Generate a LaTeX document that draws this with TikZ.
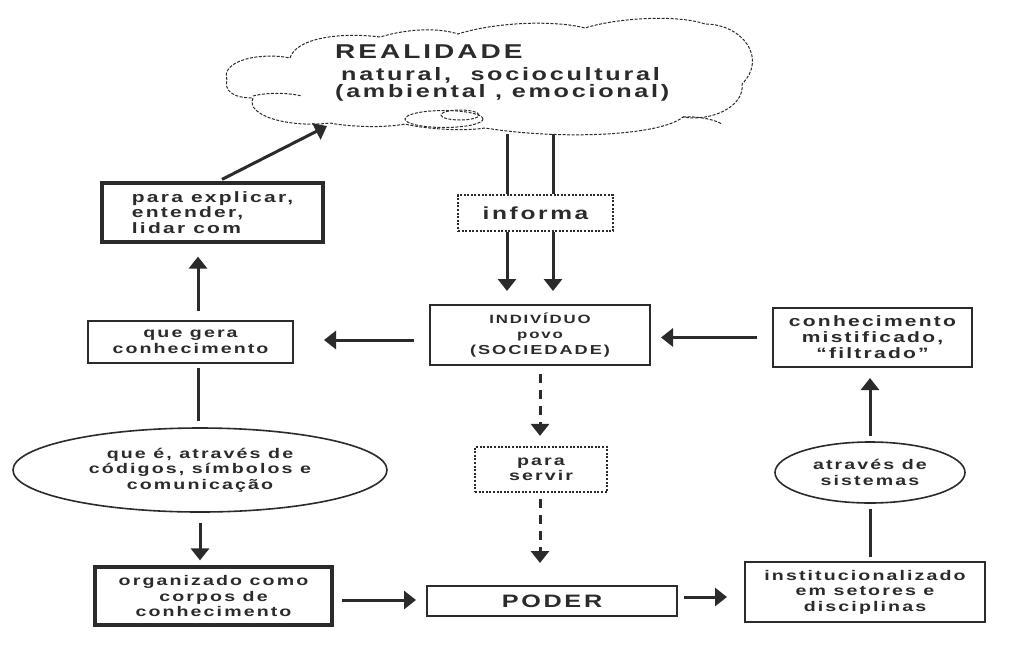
\documentclass[tikz,border=0pt]{standalone}
\usepackage{fontspec}
\setmainfont{Liberation Sans}
\newfontfamily\df[FakeStretch=1.4,LetterSpace=15]{Liberation Sans}
\usetikzlibrary{arrows.meta,shapes.geometric,calc}
\definecolor{ink}{HTML}{2B2B2B}
\tikzset{
  txt/.style={font=\df\bfseries\fontsize{14}{15.5}\selectfont, text=ink, align=center, inner sep=0pt},
  box/.style={txt, draw=ink, line width=2pt},
  thickbox/.style={box, line width=3.2pt},
  dotbox/.style={txt, draw=ink, line width=2.2pt, dash pattern=on 2pt off 1.6pt},
  oval/.style={txt, ellipse, draw=ink, line width=1.6pt},
  arr/.style={draw=ink, line width=3pt, -{Triangle[length=12pt,width=18pt]}},
  ln/.style={draw=ink, line width=3pt},
  darr/.style={arr, dash pattern=on 9pt off 7pt},
  cloudline/.style={draw=ink, line width=1pt, dash pattern=on 3pt off 1.5pt},
}
\begin{document}
\begin{tikzpicture}[x=1pt,y=-1pt]
\fill[white] (0,0) rectangle (1036,665);
\useasboundingbox (0,0) rectangle (1036,665);

% cloud
\draw[cloudline] (227,80)
  .. controls (220,60) and (262,52) .. (290,58)
  .. controls (296,38) and (340,32) .. (380,37)
  .. controls (410,28) and (440,28) .. (458,34)
  .. controls (495,22) and (555,20) .. (585,28)
  .. controls (620,17) and (680,15) .. (705,24)
  .. controls (742,24) and (768,58) .. (742,84)
  .. controls (745,106) and (712,122) .. (683,117)
  .. controls (660,136) and (560,140) .. (485,128)
  .. controls (460,132) and (420,128) .. (405,124)
  .. controls (385,128) and (350,127) .. (330,123)
  .. controls (290,128) and (245,116) .. (253,98)
  .. controls (232,98) and (224,90) .. (227,80);
\draw[cloudline] (253,96) .. controls (268,92) and (290,93) .. (302,96);
\draw[cloudline] (683,117) .. controls (700,116) and (715,120) .. (722,124);
\node[ellipse, cloudline, minimum width=78pt, minimum height=17pt] (puff) at (444,119) {};
\node[ellipse, cloudline, minimum width=38pt, minimum height=10pt] (puff2) at (460,115) {};
\coordinate (ctip) at (327,126);
\node[txt, font=\df\bfseries\fontsize{18}{17}\selectfont, align=left, anchor=north west] (rtxt) at (335,45)
  {{\fontsize{20}{20}\selectfont REALIDADE}\\[5pt]\hspace{6pt}natural,\ \ sociocultural\\(ambiental , emocional)};

% boxes
\node[dotbox, minimum width=155pt, minimum height=36pt, font=\df\bfseries\fontsize{17.5}{18}\selectfont] (inf) at (535.5,213) {informa};
\node[thickbox, minimum width=221pt, minimum height=59pt, align=left, font=\df\bfseries\fontsize{15}{15.5}\selectfont] (expl) at (212.5,212.5) {para explicar,\\entender,\\lidar com};
\node[box, minimum width=205pt, minimum height=42pt] (gera) at (190.5,342) {que gera\\conhecimento};
\node[box, minimum width=220pt, minimum height=60pt] (ind) at (540,335)
  {{\fontsize{12}{15}\selectfont INDIVÍDUO}\\{\fontsize{12}{14}\selectfont povo}\\{\fontsize{13}{15}\selectfont(SOCIEDADE)}};
\node[box, minimum width=199pt, minimum height=59pt, font=\df\bfseries\fontsize{15}{16}\selectfont] (mist) at (872.5,337.5) {conhecimento\\mistificado,\\“filtrado”};
\node[dotbox, minimum width=132pt, minimum height=45pt] (serv) at (541,469.5) {para\\servir};
\node[oval, minimum width=374pt, minimum height=84pt] (qe) at (200,470) {que é, através de\\códigos, símbolos e\\comunicação};
\node[oval, minimum width=190pt, minimum height=61pt] (atr) at (870,472.5) {através de\\sistemas};
\node[thickbox, minimum width=237pt, minimum height=58pt] (org) at (213.5,596) {organizado como\\corpos de\\conhecimento};
\node[box, minimum width=250pt, minimum height=30pt, font=\df\bfseries\fontsize{18}{18}\selectfont] (poder) at (552,601) {PODER};
\node[box, minimum width=240pt, minimum height=60pt] (inst) at (865,592) {institucionalizado\\em setores e\\disciplinas};

% connectors
\draw[arr] ($(expl.north)+(9.5,-2)$) -- (ctip);
\coordinate (c1) at (507,134);
\coordinate (c2) at (553,134);
\draw[ln] (c1) -- (c1 |- inf.north);
\draw[ln] (c2) -- (c2 |- inf.north);
\draw[arr, shorten >=13pt] (c1 |- inf.south) -- (c1 |- ind.north);
\draw[arr, shorten >=13pt] (c2 |- inf.south) -- (c2 |- ind.north);
\draw[arr] ($(ind.west)+(-15,5)$) -- ($(gera.east)+(30,-2)$);
\draw[arr] ($(mist.west)+(-15,0)$) -- ($(ind.east)+(10,2.5)$);
\draw[arr] ($(gera.north)+(7.5,-9)$) -- ($(expl.south)+(-14.5,13)$);
\draw[ln] ($(gera.south)+(7.5,4)$) -- ($(qe.north)+(-2,-6)$);
\draw[arr] ($(qe.south)+(0,10)$) -- ($(org.north)+(-13.5,-5)$);
\draw[arr] ($(org.east)+(8,4)$) -- ($(poder.west)+(-10,-1)$);
\draw[arr] ($(poder.east)+(6,-4)$) -- ($(inst.west)+(-17,5)$);
\draw[ln] ($(inst.north)+(5,-4)$) -- ($(atr.south)+(0,5)$);
\draw[arr] ($(atr.north)+(0,-5)$) -- ($(mist.south)+(-2.5,10)$);
\draw[darr] ($(ind.south)+(0,8)$) -- ($(serv.north)+(-1,-10)$);
\draw[darr] ($(serv.south)+(-1,6)$) -- ($(poder.north)+(-12,-22)$);
\end{tikzpicture}
\end{document}
